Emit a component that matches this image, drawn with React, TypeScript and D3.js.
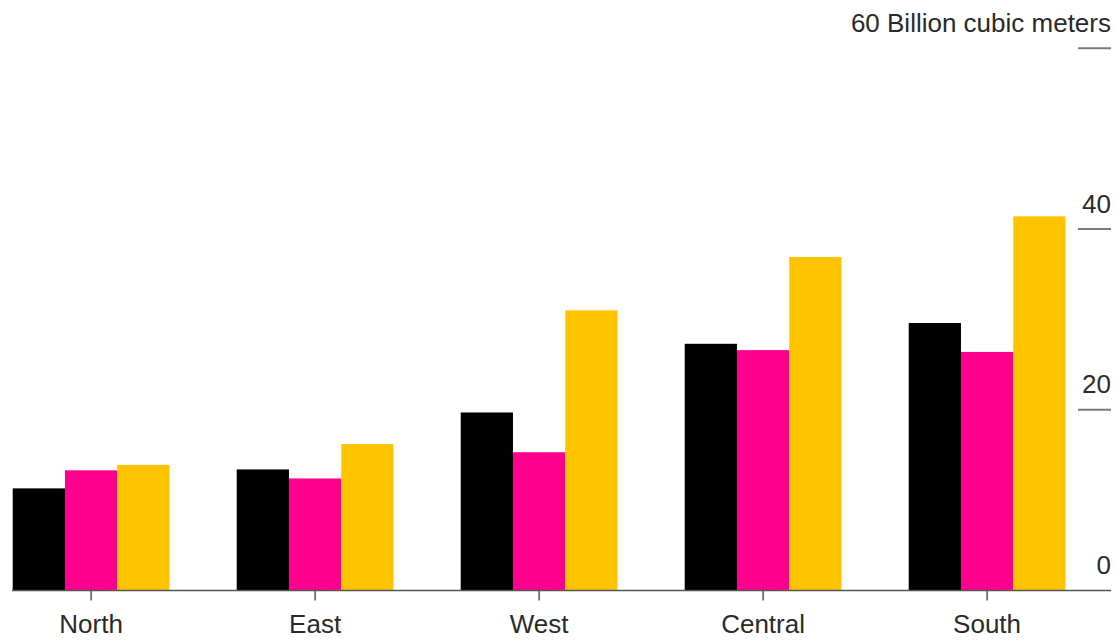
import React from "react";
import * as d3 from "d3";

// Regions and annual volumes (billion cubic meters) for three series
const regions = ["North", "East", "West", "Central", "South"];
const seriesKeys = ["s1", "s2", "s3"];
const seriesColors = ["#000000", "#ff008c", "#ffc300"];
const s1Values = [11.3, 13.4, 19.7, 27.3, 29.6];
const s2Values = [13.3, 12.4, 15.3, 26.6, 26.4];
const s3Values = [13.9, 16.2, 31.0, 36.9, 41.4];
const yTicks = [0, 20, 40, 60];
const yUnit = "Billion cubic meters";

const W = 1118;
const H = 640;
const FONT = "'Liberation Sans', Arial, Helvetica, sans-serif";

export default function App() {
  const rows = regions.map((r, i) => ({
    region: r,
    values: [s1Values[i], s2Values[i], s3Values[i]],
  }));

  const x0 = d3
    .scaleBand<string>()
    .domain(regions)
    .range([12.7, 1065.5])
    .paddingInner(0.3)
    .paddingOuter(0);

  const x1 = d3
    .scaleBand<string>()
    .domain(seriesKeys)
    .range([0, x0.bandwidth()])
    .padding(0);

  const y = d3.scaleLinear().domain([0, 60]).range([590.5, 48.3]);

  const tickX1 = 1078;
  const tickX2 = 1111;

  return (
    <svg
      width={W}
      height={H}
      style={{ position: "absolute", left: 0, top: 0, background: "#fff" }}
      fontFamily={FONT}
    >
      {/* grouped bars */}
      {rows.map((row) => (
        <g key={row.region} transform={`translate(${x0(row.region)},0)`}>
          {row.values.map((v, j) => (
            <rect
              key={seriesKeys[j]}
              x={x1(seriesKeys[j])}
              y={y(v)}
              width={x1.bandwidth()}
              height={y(0) - y(v)}
              fill={seriesColors[j]}
            />
          ))}
        </g>
      ))}

      {/* right-hand value axis: short tick marks with labels above them */}
      {yTicks.map((t) => (
        <g key={t}>
          {t > 0 && (
            <line
              x1={tickX1}
              x2={tickX2}
              y1={y(t)}
              y2={y(t)}
              stroke="#7a7a7a"
              strokeWidth={2}
            />
          )}
          <text
            x={tickX2}
            y={y(t) - 16.5}
            textAnchor="end"
            fontSize={26}
            fill="#2a2a2a"
          >
            {t === 60 ? `${t} ${yUnit}` : t}
          </text>
        </g>
      ))}

      {/* baseline */}
      <line
        x1={12}
        x2={1111}
        y1={y(0)}
        y2={y(0)}
        stroke="#555"
        strokeWidth={1.5}
      />

      {/* category ticks and labels */}
      {regions.map((r) => {
        const cx = (x0(r) as number) + x0.bandwidth() / 2;
        return (
          <g key={r}>
            <line
              x1={cx}
              x2={cx}
              y1={y(0)}
              y2={y(0) + 10}
              stroke="#555"
              strokeWidth={1.5}
            />
            <text
              x={cx}
              y={633}
              textAnchor="middle"
              fontSize={26}
              fill="#2a2a2a"
            >
              {r}
            </text>
          </g>
        );
      })}
    </svg>
  );
}
